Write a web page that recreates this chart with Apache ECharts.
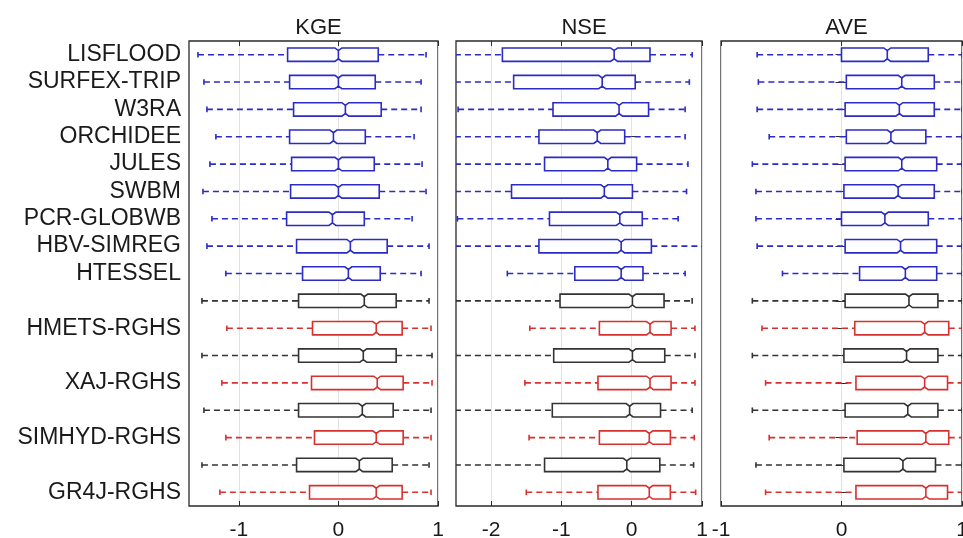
<!DOCTYPE html>
<html><head><meta charset="utf-8">
<script src="https://cdn.jsdelivr.net/npm/echarts@6/dist/echarts.min.js"></script>
<style>html,body{margin:0;padding:0;background:#fff}#c{width:963px;height:538px}</style>
</head><body><div id="c"></div>
<script>
// ---- data ----
const categories = ['LISFLOOD','SURFEX-TRIP','W3RA','ORCHIDEE','JULES','SWBM','PCR-GLOBWB','HBV-SIMREG','HTESSEL','','HMETS-RGHS','','XAJ-RGHS','','SIMHYD-RGHS','','GR4J-RGHS'];
const rowGroup = ['b','b','b','b','b','b','b','b','b','k','r','k','r','k','r','k','r'];
const panelTitles = ['KGE','NSE','AVE'];
const kgeTicks = [-1, 0, 1];
const nseTicks = [-2, -1, 0, 1];
const aveTicks = [-1, 0, 1];

const kgeMin = [-1.41,-1.35,-1.32,-1.23,-1.29,-1.36,-1.27,-1.32,-1.13,-1.37,-1.12,-1.37,-1.17,-1.35,-1.13,-1.37,-1.19];
const kgeQ1  = [-0.51,-0.49,-0.45,-0.49,-0.47,-0.48,-0.52,-0.42,-0.36,-0.40,-0.26,-0.40,-0.27,-0.40,-0.24,-0.42,-0.29];
const kgeMed = [0.00,0.00,0.07,-0.05,0.00,0.00,-0.06,0.12,0.10,0.26,0.38,0.25,0.39,0.24,0.38,0.21,0.38];
const kgeQ3  = [0.40,0.37,0.43,0.27,0.36,0.41,0.26,0.49,0.42,0.58,0.64,0.58,0.65,0.55,0.65,0.54,0.64];
const kgeMax = [0.88,0.83,0.83,0.76,0.84,0.88,0.74,0.91,0.83,0.91,0.93,0.94,0.94,0.93,0.93,0.91,0.93];

const nseMin = [-2.8,-2.8,-2.47,-2.8,-2.8,-2.8,-2.48,-2.8,-1.77,-2.8,-1.45,-2.8,-1.52,-2.8,-1.46,-2.8,-1.50];
const nseQ1  = [-1.84,-1.68,-1.12,-1.32,-1.24,-1.71,-1.17,-1.32,-0.81,-1.02,-0.46,-1.11,-0.48,-1.13,-0.46,-1.24,-0.48];
const nseMed = [-0.25,-0.42,-0.18,-0.49,-0.34,-0.39,-0.17,-0.15,-0.15,0.01,0.26,0.01,0.26,-0.03,0.25,-0.07,0.25];
const nseQ3  = [0.26,0.05,0.24,-0.10,0.07,0.01,0.15,0.28,0.16,0.46,0.56,0.47,0.56,0.41,0.55,0.40,0.55];
const nseMax = [0.86,0.82,0.76,0.76,0.80,0.78,0.66,1.05,0.76,0.86,0.90,0.90,0.90,0.86,0.89,0.88,0.91];

const aveMin = [-0.70,-0.69,-0.70,-0.60,-0.74,-0.71,-0.71,-0.70,-0.49,-0.74,-0.66,-0.74,-0.63,-0.74,-0.60,-0.71,-0.63];
const aveQ1  = [0.00,0.04,0.03,0.04,0.03,0.02,0.00,0.03,0.15,0.03,0.11,0.02,0.12,0.03,0.13,0.02,0.12];
const aveMed = [0.38,0.50,0.48,0.41,0.50,0.47,0.36,0.49,0.53,0.56,0.69,0.54,0.69,0.55,0.70,0.51,0.70];
const aveQ3  = [0.72,0.77,0.77,0.70,0.79,0.77,0.72,0.79,0.79,0.80,0.89,0.80,0.88,0.80,0.89,0.78,0.88];
const aveMax = [1,1,1,1,1,1,1,1,1,1,1,1,1,1,1,1,1];

// ---- layout / style ----
const colors = { b: '#2b2bc6', r: '#d8302f', k: '#333333' };
const FONT = 'Liberation Sans, Arial, Helvetica, sans-serif';
const panels = [
  { title: panelTitles[0], min: -1.5, max: 1, ticks: kgeTicks, stats: [kgeMin,kgeQ1,kgeMed,kgeQ3,kgeMax], left: 189, width: 249 },
  { title: panelTitles[1], min: -2.5, max: 1, ticks: nseTicks, stats: [nseMin,nseQ1,nseMed,nseQ3,nseMax], left: 456, width: 246 },
  { title: panelTitles[2], min: -1, max: 1, ticks: aveTicks, stats: [aveMin,aveQ1,aveMed,aveQ3,aveMax], left: 721, width: 241 }
];
const TOP = 41, HEIGHT = 465;

function renderBox(params, api) {
  const row = api.value(0);
  const col = colors[rowGroup[params.dataIndex]];
  const yc = api.coord([0, row])[1];
  const xs = [1,2,3,4,5].map(i => api.coord([api.value(i), row])[0]);
  const hh = api.size([0, 1])[1] * 0.245;
  const top = yc - hh, bot = yc + hh;
  const med = xs[2];
  const nw = Math.min(3.5, med - xs[1], xs[3] - med);
  const d = 2.6;
  const lw = 1.6;
  const children = [
    { type: 'line', shape: { x1: xs[0], y1: yc, x2: xs[1], y2: yc }, style: { stroke: col, lineWidth: lw, lineDash: [6, 4] } },
    { type: 'line', shape: { x1: xs[3], y1: yc, x2: xs[4], y2: yc }, style: { stroke: col, lineWidth: lw, lineDash: [6, 4] } },
    { type: 'line', shape: { x1: xs[0], y1: yc - 2.8, x2: xs[0], y2: yc + 2.8 }, style: { stroke: col, lineWidth: lw } },
    { type: 'line', shape: { x1: xs[4], y1: yc - 2.8, x2: xs[4], y2: yc + 2.8 }, style: { stroke: col, lineWidth: lw } },
    { type: 'polygon', shape: { points: [
        [xs[1], top], [med - nw, top], [med, top + d], [med + nw, top], [xs[3], top],
        [xs[3], bot], [med + nw, bot], [med, bot - d], [med - nw, bot], [xs[1], bot]
      ] }, style: { fill: '#ffffff', stroke: col, lineWidth: lw } },
    { type: 'line', shape: { x1: med, y1: top + d, x2: med, y2: bot - d }, style: { stroke: col, lineWidth: lw } }
  ];
  return { type: 'group', children };
}

const option = {
  backgroundColor: '#ffffff',
  animation: false,
  textStyle: { fontFamily: FONT },
  title: panels.map(p => ({
    text: p.title, left: p.left + p.width / 2, top: 12, textAlign: 'center',
    textStyle: { fontSize: 22, fontWeight: 'normal', color: '#1a1a1a', fontFamily: FONT }
  })),
  grid: panels.map(p => ({
    left: p.left, width: p.width, top: TOP, height: HEIGHT,
    outerBoundsMode: 'none', containLabel: false,
    show: true, borderColor: '#2a2a2a', borderWidth: 1.3, backgroundColor: 'transparent'
  })),
  xAxis: [],
  yAxis: [],
  series: []
};

panels.forEach((p, i) => {
  option.xAxis.push({
    type: 'value', gridIndex: i, min: p.min, max: p.max, position: 'bottom',
    axisLine: { show: false },
    axisTick: { show: true, inside: true, length: 5, customValues: p.ticks, lineStyle: { color: '#2a2a2a' } },
    axisLabel: { show: true, customValues: p.ticks, fontSize: 21, color: '#1a1a1a', margin: 14, fontFamily: FONT },
    splitLine: { show: true, lineStyle: { color: '#e2e2e2', width: 1 } }
  });
  option.xAxis.push({
    type: 'value', gridIndex: i, min: p.min, max: p.max, position: 'top',
    axisLine: { show: false },
    axisTick: { show: true, inside: true, length: 5, customValues: p.ticks, lineStyle: { color: '#2a2a2a' } },
    axisLabel: { show: false },
    splitLine: { show: false }
  });
  option.yAxis.push({
    type: 'category', gridIndex: i, data: categories, inverse: true, position: 'left',
    axisLine: { show: false },
    axisTick: { show: true, inside: true, length: 6, alignWithLabel: true, interval: 0, lineStyle: { color: '#2a2a2a' } },
    axisLabel: { show: i === 0, interval: 0, fontSize: 23, color: '#1a1a1a', margin: 8, fontFamily: FONT },
    splitLine: { show: false }
  });
  option.yAxis.push({
    type: 'category', gridIndex: i, data: categories, inverse: true, position: 'right',
    axisLine: { show: false },
    axisTick: { show: true, inside: true, length: 6, alignWithLabel: true, interval: 0, lineStyle: { color: '#2a2a2a' } },
    axisLabel: { show: false },
    splitLine: { show: false }
  });
  const data = categories.map((c, r) => [r, p.stats[0][r], p.stats[1][r], p.stats[2][r], p.stats[3][r], p.stats[4][r]]);
  option.series.push({
    type: 'custom', xAxisIndex: i * 2, yAxisIndex: i * 2, clip: true,
    renderItem: renderBox,
    encode: { x: [1, 2, 3, 4, 5], y: 0 },
    data: data
  });
});

const chart = echarts.init(document.getElementById('c'), null, { renderer: 'canvas' });
chart.setOption(option);
</script>
</body></html>
